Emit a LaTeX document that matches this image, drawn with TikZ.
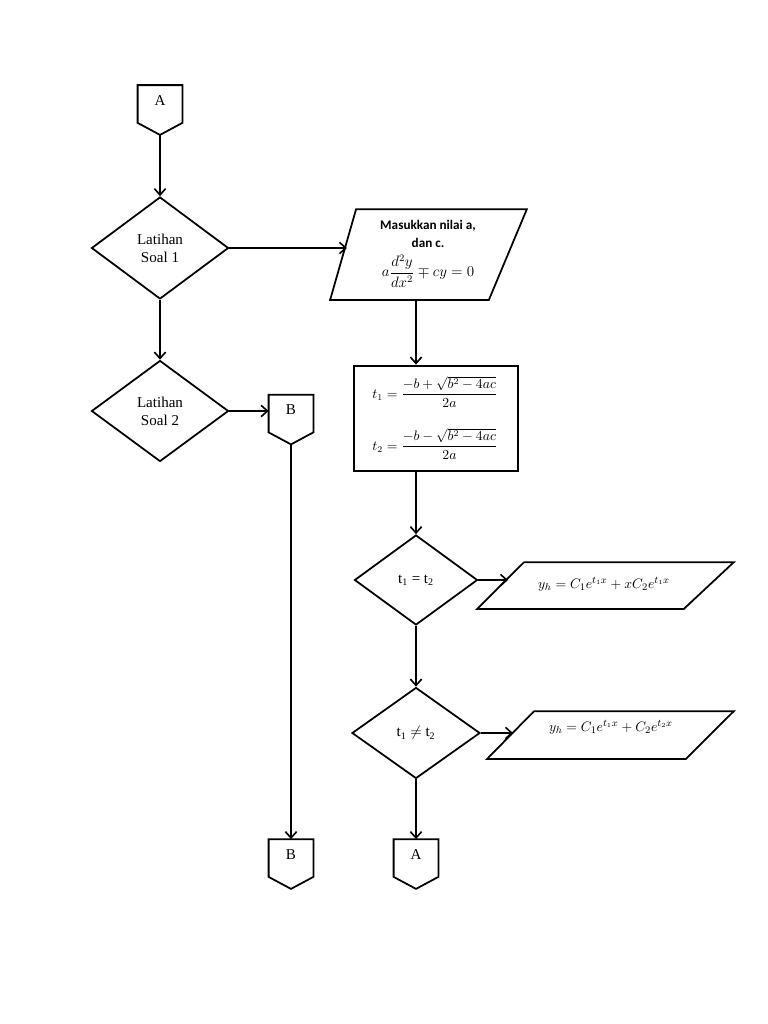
\documentclass[tikz,border=0pt]{standalone}
\usepackage{fontspec}
\setmainfont{Liberation Serif}
\newfontfamily\calib{Carlito}
\usetikzlibrary{shapes.geometric,arrows.meta,calc}
\begin{document}
\begin{tikzpicture}[x=0.797pt,y=-0.797pt,
  line width=1.4pt,
  arr/.style={-{Straight Barb[length=5pt,width=9pt,line width=1.3pt]}},
  dia/.style={diamond,draw,inner sep=0pt,font=\fontsize{12}{14.5}\selectfont,align=center},
  ghost/.style={rectangle,draw=none,inner sep=0pt},
  txt/.style={font=\fontsize{12}{14}\selectfont,inner sep=0pt},
  shp/.style={line width=1.4pt,line join=miter}]
\useasboundingbox (0,0) rectangle (768,1024);

% off-page connectors
\newcommand{\offpage}[4]{%
  \node[ghost,minimum width=43*0.797pt,minimum height=48*0.797pt] (#1) at (#2,#3) {};
  \draw[shp] (#1.north west) -- (#1.north east) -- ($(#1.south east)+(0,-12)$) -- (#1.south) -- ($(#1.south west)+(0,-12)$) -- cycle;
  \node[txt] (#1t) at ($(#1.north)+(0,15)$) {#4};}

\offpage{cA}{160}{110}{A}
\offpage{cBa}{291}{419.5}{B}
\offpage{cBb}{291}{864}{B}
\offpage{cAb}{416}{864}{A}

% diamonds
\node[dia,minimum width=137*0.797pt,minimum height=102*0.797pt] (d1) at (160,248) {Latihan\\Soal 1};
\node[dia,minimum width=137*0.797pt,minimum height=101*0.797pt] (d2) at (160,411) {Latihan\\Soal 2};
\node[dia,minimum width=123*0.797pt,minimum height=90*0.797pt] (d3) at (416,580) {t\textsubscript{1} = t\textsubscript{2}};
\node[dia,minimum width=128*0.797pt,minimum height=91*0.797pt] (d4) at (416,733) {t\textsubscript{1} $\neq$ t\textsubscript{2}};

% parallelogram 1
\node[ghost,minimum width=195*0.797pt,minimum height=89*0.797pt] (p1) at (428.5,254.5) {};
\draw[shp] ($(p1.north west)+(26,0)$) -- (p1.north east) -- ($(p1.south east)+(-38,0)$) -- (p1.south west) -- cycle;
\node[inner sep=0pt,align=center,font=\calib\bfseries\fontsize{10.5}{14.5}\selectfont] (p1a) at (428,234) {Masukkan nilai a,\\dan c.};
\node[inner sep=0pt,font=\fontsize{11.5}{13}\selectfont] (p1b) at (428,271) {$\displaystyle a\frac{d^2y}{dx^2}\mp cy=0$};
\coordinate (p1in) at (347,248);

% box
\node[ghost,draw,line width=2.3pt,minimum width=164*0.797pt,minimum height=105*0.797pt] (bx) at (436,418.5) {};
\node[inner sep=0pt,font=\fontsize{10.5}{12}\selectfont] (e1) at (435,392) {$\displaystyle t_1=\frac{-b+\sqrt{b^2-4ac}}{2a}$};
\node[inner sep=0pt,font=\fontsize{10.5}{12}\selectfont] (e2) at (435,444) {$\displaystyle t_2=\frac{-b-\sqrt{b^2-4ac}}{2a}$};

% parallelogram 3
\node[ghost,minimum width=255*0.797pt,minimum height=45*0.797pt] (p3) at (605.5,585.5) {};
\draw[shp] ($(p3.north west)+(47,0)$) -- (p3.north east) -- ($(p3.south east)+(-50,0)$) -- (p3.south west) -- cycle;
\node[inner sep=0pt,font=\fontsize{11}{12}\selectfont] (p3t) at (604,584) {$y_h=C_1e^{t_1x}+xC_2e^{t_1x}$};
\coordinate (p3in) at (508,580);

% parallelogram 4
\node[ghost,minimum width=245*0.797pt,minimum height=46*0.797pt] (p4) at (610.5,735) {};
\draw[shp] ($(p4.north west)+(47,0)$) -- (p4.north east) -- ($(p4.south east)+(-48,0)$) -- (p4.south west) -- cycle;
\node[inner sep=0pt,font=\fontsize{11}{12}\selectfont] (p4t) at (611,727) {$y_h=C_1e^{t_1x}+C_2e^{t_2x}$};
\coordinate (p4in) at (513,733);

% connectors
\draw[arr] (cA.south) -- (d1.north);
\draw[arr] (d1.south) -- (d2.north);
\draw[arr] (d1.east) -- (p1in);
\draw[arr] (d2.east) -- (d2.east -| cBa.west);
\draw[arr] (cBa.south) -- (cBb.north);
\draw[arr] (d3.north |- p1.south) -- (d3.north |- bx.north);
\draw[arr] (d3.north |- bx.south) -- (d3.north);
\draw[arr] (d3.east) -- (p3in);
\draw[arr] (d3.south) -- (d4.north);
\draw[arr] (d4.east) -- (p4in);
\draw[arr] (d4.south) -- (cAb.north);
\end{tikzpicture}
\end{document}
